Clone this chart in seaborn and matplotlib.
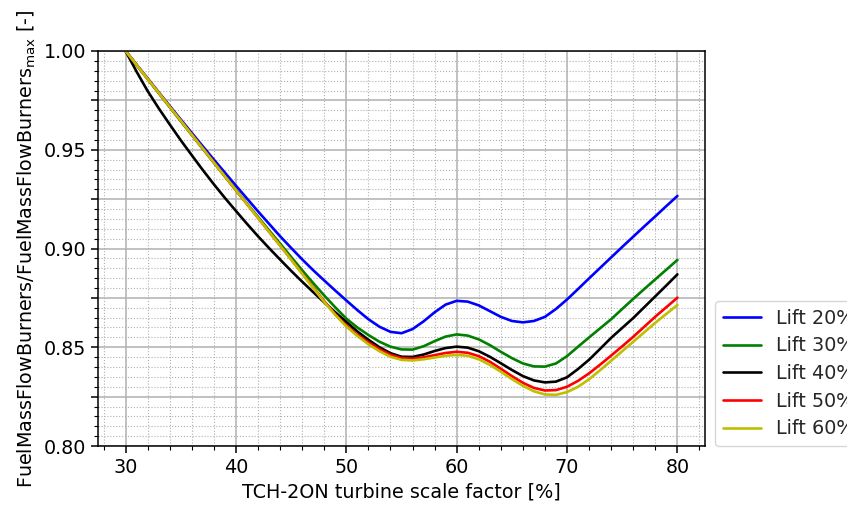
import numpy as np
import pandas as pd
import matplotlib
matplotlib.use("Agg")
import matplotlib.pyplot as plt
from matplotlib.ticker import MultipleLocator, FuncFormatter
import seaborn as sns

scale_factor = list(range(30, 81))

lift_20 = [1.000, 0.9930, 0.9861, 0.9791, 0.9722, 0.9653, 0.9585, 0.9517, 0.9450, 0.9384,
           0.9318, 0.9253, 0.9188, 0.9125, 0.9062, 0.9003, 0.8945, 0.8890, 0.8838, 0.8787,
           0.8737, 0.8688, 0.8642, 0.8604, 0.8578, 0.8571, 0.8592, 0.8631, 0.8677, 0.8716,
           0.8735, 0.8731, 0.8712, 0.8683, 0.8654, 0.8633, 0.8626, 0.8633, 0.8654, 0.8694,
           0.8742, 0.8795, 0.8849, 0.8902, 0.8955, 0.9008, 0.9060, 0.9112, 0.9163, 0.9215,
           0.9266]
lift_30 = [1.000, 0.9929, 0.9858, 0.9787, 0.9716, 0.9645, 0.9575, 0.9505, 0.9435, 0.9365,
           0.9295, 0.9227, 0.9160, 0.9092, 0.9025, 0.8957, 0.8890, 0.8825, 0.8762, 0.8702,
           0.8645, 0.8600, 0.8562, 0.8528, 0.8503, 0.8489, 0.8488, 0.8505, 0.8531, 0.8554,
           0.8565, 0.8559, 0.8540, 0.8511, 0.8477, 0.8445, 0.8418, 0.8403, 0.8402, 0.8418,
           0.8455, 0.8503, 0.8550, 0.8596, 0.8642, 0.8694, 0.8745, 0.8795, 0.8844, 0.8893,
           0.8942]
lift_40 = [1.000, 0.9895, 0.9797, 0.9710, 0.9628, 0.9548, 0.9472, 0.9397, 0.9325, 0.9256,
           0.9190, 0.9125, 0.9062, 0.9002, 0.8944, 0.8887, 0.8832, 0.8779, 0.8727, 0.8677,
           0.8628, 0.8580, 0.8538, 0.8500, 0.8470, 0.8452, 0.8451, 0.8463, 0.8481, 0.8496,
           0.8503, 0.8498, 0.8480, 0.8452, 0.8419, 0.8385, 0.8354, 0.8332, 0.8322, 0.8326,
           0.8348, 0.8390, 0.8437, 0.8492, 0.8548, 0.8598, 0.8648, 0.8703, 0.8758, 0.8813,
           0.8869]
lift_50 = [1.000, 0.9929, 0.9858, 0.9788, 0.9717, 0.9647, 0.9576, 0.9506, 0.9435, 0.9365,
           0.9295, 0.9225, 0.9155, 0.9085, 0.9015, 0.8945, 0.8874, 0.8803, 0.8733, 0.8667,
           0.8610, 0.8563, 0.8525, 0.8490, 0.8462, 0.8445, 0.8442, 0.8449, 0.8460, 0.8471,
           0.8477, 0.8472, 0.8455, 0.8427, 0.8391, 0.8354, 0.8320, 0.8294, 0.8281, 0.8283,
           0.8300, 0.8330, 0.8368, 0.8412, 0.8458, 0.8505, 0.8553, 0.8604, 0.8655, 0.8703,
           0.8751]
lift_60 = [1.000, 0.9929, 0.9858, 0.9788, 0.9717, 0.9647, 0.9576, 0.9506, 0.9435, 0.9365,
           0.9295, 0.9225, 0.9155, 0.9085, 0.9015, 0.8944, 0.8872, 0.8800, 0.8729, 0.8664,
           0.8605, 0.8557, 0.8515, 0.8480, 0.8452, 0.8436, 0.8433, 0.8439, 0.8448, 0.8457,
           0.8461, 0.8457, 0.8439, 0.8411, 0.8376, 0.8339, 0.8305, 0.8277, 0.8261, 0.8259,
           0.8273, 0.8300, 0.8338, 0.8384, 0.8432, 0.8480, 0.8528, 0.8576, 0.8624, 0.8669,
           0.8714]

series_labels = ["Lift 20%", "Lift 30%", "Lift 40%", "Lift 50%", "Lift 60%"]
series_values = [lift_20, lift_30, lift_40, lift_50, lift_60]
colors = ["#0000ff", "#008000", "#000000", "#ff0000", "#bfbf00"]

rows = []
for lab, vals in zip(series_labels, series_values):
    for xv, yv in zip(scale_factor, vals):
        rows.append({"x": xv, "y": yv, "series": lab})
df = pd.DataFrame(rows)

sns.set_theme(style="ticks")
FS = 13.8
plt.rcParams["font.family"] = ["DejaVu Sans"]
plt.rcParams["font.size"] = FS
plt.rcParams["mathtext.fontset"] = "dejavusans"

fig = plt.figure(figsize=(8.47, 5.05), dpi=100)
ax = fig.add_axes([98 / 847, 1 - 446 / 505, 607 / 847, 395 / 505])

sns.lineplot(data=df, x="x", y="y", hue="series", palette=colors,
             hue_order=series_labels, estimator=None, sort=True,
             linewidth=1.9, ax=ax, legend=True)

ax.set_xlim(27.5, 82.5)
ax.set_ylim(0.80, 1.00)
ax.xaxis.set_major_locator(MultipleLocator(10))
ax.xaxis.set_minor_locator(MultipleLocator(2))
ax.yaxis.set_major_locator(MultipleLocator(0.025))
ax.yaxis.set_minor_locator(MultipleLocator(0.005))


def yfmt(v, pos):
    r = round(v / 0.05)
    if abs(v - r * 0.05) < 1e-6:
        return f"{v:.2f}"
    return ""


ax.yaxis.set_major_formatter(FuncFormatter(yfmt))
ax.grid(which="major", color="#b0b0b0", linestyle="-", linewidth=1.1)
ax.grid(which="minor", color="#b0b0b0", linestyle=":", linewidth=0.8)
ax.set_axisbelow(True)

ax.tick_params(axis="both", which="major", labelsize=FS, length=4.8, width=1.1,
               color="black", labelcolor="black", direction="out")
ax.tick_params(axis="both", which="minor", length=2.8, width=0.8, color="black")
for sp in ax.spines.values():
    sp.set_color("black")
    sp.set_linewidth(1.1)
    sp.set_visible(True)

ax.set_xlabel("TCH-2ON turbine scale factor [%]", fontsize=FS, color="black")
ax.set_ylabel(r"FuelMassFlowBurners/FuelMassFlowBurners$_{\mathrm{max}}$ [-]",
              fontsize=FS, color="black")

handles, labels = ax.get_legend_handles_labels()
ax.get_legend().remove()
ax.legend(handles, labels, loc="lower left", bbox_to_anchor=(1.0165, 0.0),
          borderaxespad=0, fontsize=FS, frameon=True, labelspacing=0.45)

fig.savefig("out.png", dpi=100)
